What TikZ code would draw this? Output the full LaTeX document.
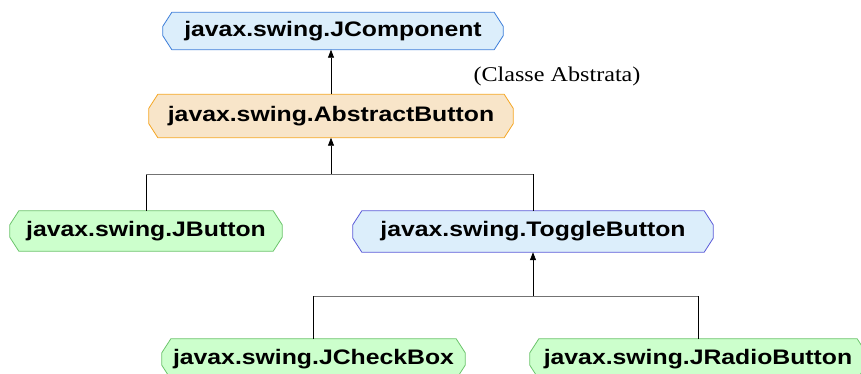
\documentclass[tikz,border=0pt]{standalone}
\usepackage{fontspec}
\setmainfont{Liberation Serif}[FakeStretch=1.15]
\newfontfamily\classfont{Liberation Sans Bold}[FakeStretch=1.18]
\usetikzlibrary{arrows.meta}

\definecolor{blueFill}{HTML}{DCEEFB}
\definecolor{blueLine}{HTML}{3C7DD9}
\definecolor{violetLine}{HTML}{5A5AD8}
\definecolor{orangeFill}{HTML}{F8E5C9}
\definecolor{orangeLine}{HTML}{F5A623}
\definecolor{greenFill}{HTML}{CCFFCC}
\definecolor{greenLine}{HTML}{6CC46C}

\pgfdeclarelayer{boxes}
\pgfsetlayers{boxes,main}

\tikzset{
  classbox/.style={rectangle, inner sep=0pt,
    font=\classfont\fontsize{21}{21}\selectfont},
  outline/.style={line width=0.8pt, line join=miter},
  abstractcls/.style={outline, fill=orangeFill, draw=orangeLine},
  interfacecls/.style={outline, fill=blueFill, draw=blueLine},
  togglecls/.style={outline, fill=blueFill, draw=violetLine},
  concretecls/.style={outline, fill=greenFill, draw=greenLine},
  link/.style={line width=0.7pt, black},
  bus/.style={line width=0.8pt, black!55},
  inherit/.style={link, -{Triangle[width=6pt,length=8pt]}}
}

% octagonal outline (chamfered corners) behind a named node
\newcommand\classoutline[2]{%
  \begin{pgfonlayer}{boxes}
    \path[#2]
      ([xshift=9pt]#1.north west) -- ([xshift=-9pt]#1.north east)
      -- ([yshift=-14pt]#1.north east) -- ([yshift=14pt]#1.south east)
      -- ([xshift=-9pt]#1.south east) -- ([xshift=9pt]#1.south west)
      -- ([yshift=14pt]#1.south west) -- ([yshift=-14pt]#1.north west)
      -- cycle;
  \end{pgfonlayer}}

\begin{document}
\begin{tikzpicture}[x=1pt,y=-1pt]
  \useasboundingbox (0,0) rectangle (861,373);

  % class nodes
  \node[classbox, minimum width=340pt, minimum height=37pt] (jcomp) at (333,31) {javax.swing.JComponent};
  \node[classbox, minimum width=364pt, minimum height=43pt] (abs) at (331,116) {javax.swing.AbstractButton};
  \node[classbox, minimum width=272pt, minimum height=40pt] (jbut) at (146,231) {javax.swing.JButton};
  \node[classbox, minimum width=360pt, minimum height=41pt] (tog) at (533,231.5) {javax.swing.ToggleButton};
  \node[classbox, minimum width=303pt, minimum height=40pt] (chk) at (313.5,359) {javax.swing.JCheckBox};
  \node[classbox, minimum width=336pt, minimum height=40pt] (rad) at (698,359) {javax.swing.JRadioButton};

  \classoutline{jcomp}{interfacecls}
  \classoutline{abs}{abstractcls}
  \classoutline{jbut}{concretecls}
  \classoutline{tog}{togglecls}
  \classoutline{chk}{concretecls}
  \classoutline{rad}{concretecls}

  \node[font=\fontsize{21}{21}\selectfont] (note) at (557,76) {(Classe Abstrata)};

  % inheritance connectors
  \draw[inherit] (abs.north) -- (abs.north |- jcomp.south);

  \coordinate (busA) at (331,174);
  \draw[inherit] (busA) -- (abs.south);
  \draw[link] (jbut.north) -- (jbut.north |- busA);
  \draw[link] (tog.north) -- (tog.north |- busA);
  \draw[bus] (jbut.north |- busA) -- (tog.north |- busA);

  \coordinate (busB) at (533,296);
  \draw[inherit] (busB) -- (tog.south);
  \draw[link] (chk.north) -- (chk.north |- busB);
  \draw[link] (rad.north) -- (rad.north |- busB);
  \draw[bus] (chk.north |- busB) -- (rad.north |- busB);
\end{tikzpicture}
\end{document}
